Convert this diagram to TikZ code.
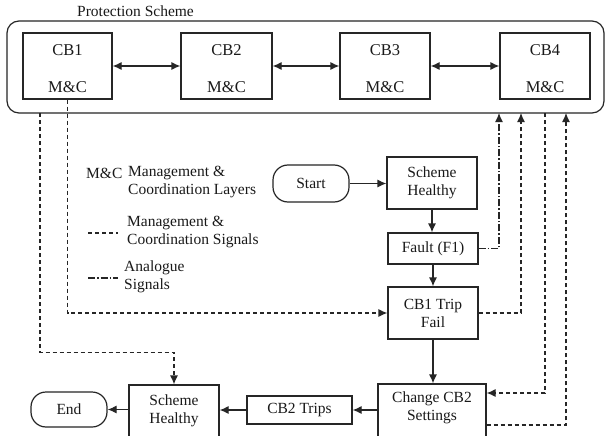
\documentclass[tikz,border=0pt]{standalone}
\usepackage{fontspec}
\setmainfont{Liberation Serif}
\usetikzlibrary{arrows.meta}
\begin{document}
\begin{tikzpicture}[x=1pt,y=-1pt,
  every node/.style={font=\fontsize{15.5}{18}\selectfont, inner sep=0pt, text=black!90},
  box/.style={draw=black!85, line width=1.2pt, align=center},
  pill/.style={box, rounded corners=15pt},
  lbl/.style={align=center},
  cbtext/.style={font=\fontsize{16.5}{19}\selectfont},
  arr/.style={-{Latex[length=9pt,width=8pt]}, line width=1.2pt, draw=black!85},
  arrtwo/.style={{Latex[length=9pt,width=8pt]}-{Latex[length=9pt,width=8pt]}, line width=1.2pt, draw=black!85},
  sig/.style={arr, dash pattern=on 4pt off 3pt},
  ana/.style={arr, dash pattern=on 7pt off 2pt on 1.5pt off 2pt},
  sigline/.style={line width=1.2pt, draw=black!85, dash pattern=on 4pt off 3pt},
  analine/.style={line width=1.2pt, draw=black!85, dash pattern=on 7pt off 2pt on 1.5pt off 2pt}
]
\clip (0,0) rectangle (605,436);
\fill[white] (0,0) rectangle (605,436);

% protection scheme frame
\node[draw=black!85, line width=1.2pt, rounded corners=12pt, minimum width=597pt, minimum height=92pt] (scheme) at (305.5,67) {};
\node[anchor=base west] (title) at (77,17) {Protection Scheme};

% circuit breakers
\node[box, minimum width=89pt, minimum height=66pt] (cb1) at (67.5,66) {};
\node[box, minimum width=91pt, minimum height=66pt] (cb2) at (226.5,66) {};
\node[box, minimum width=90pt, minimum height=66pt] (cb3) at (385,66) {};
\node[box, minimum width=90pt, minimum height=66pt] (cb4) at (545,66) {};
\node[cbtext] (cb1a) at (67.5,50) {CB1};
\node[cbtext] (cb1b) at (67.5,87) {M\&C};
\node[cbtext] (cb2a) at (226.5,50) {CB2};
\node[cbtext] (cb2b) at (226.5,87) {M\&C};
\node[cbtext] (cb3a) at (385,50) {CB3};
\node[cbtext] (cb3b) at (385,87) {M\&C};
\node[cbtext] (cb4a) at (545,50) {CB4};
\node[cbtext] (cb4b) at (545,87) {M\&C};
\draw[arrtwo] (cb1) -- (cb2);
\draw[arrtwo] (cb2) -- (cb3);
\draw[arrtwo] (cb3) -- (cb4);

% legend
\node[anchor=west] (lmc) at (86,173) {M\&C};
\node[anchor=west, align=left] (lmctext) at (128,182) {Management \&\\Coordination Layers};
\coordinate (lsA) at (88,233);
\coordinate (lsB) at (118,233);
\draw[sigline] (lsA) -- (lsB);
\node[anchor=west, align=left] (lsig) at (127,232.5) {Management \&\\Coordination Signals};
\coordinate (laA) at (88,278);
\coordinate (laB) at (118,278);
\draw[analine] (laA) -- (laB);
\node[anchor=west, align=left] (lana) at (124,276.5) {Analogue\\Signals};

% flowchart
\node[pill, minimum width=76pt, minimum height=37pt] (start) at (311,183.5) {Start};
\node[box, minimum width=90pt, minimum height=52pt] (sh1) at (432,183) {Scheme\\Healthy};
\node[box, minimum width=90pt, minimum height=31pt] (fault) at (433,248.5) {Fault (F1)};
\node[box, minimum width=90pt, minimum height=52pt] (trip) at (433,313) {CB1 Trip\\Fail};
\node[box, minimum width=108pt, minimum height=56pt] (cc2) at (432,412) {};
\node[lbl] (cc2t) at (432,408) {Change CB2\\Settings};
\node[box, minimum width=105pt, minimum height=28pt] (cb2t) at (299.5,410) {CB2 Trips};
\node[box, minimum width=90pt, minimum height=55pt] (sh2) at (174,412.5) {};
\node[lbl] (sh2t) at (174,411) {Scheme\\Healthy};
\node[pill, minimum width=76pt, minimum height=35pt] (end) at (69,409.5) {End};

\draw[arr] (start) -- (start -| sh1.west);
\draw[arr] (sh1.south) -- (sh1.south |- fault.north);
\draw[arr] (fault.south) -- (fault.south |- trip.north);
\draw[arr] (trip.south) -- (trip.south |- cc2.north);
\draw[arr] (cc2.west |- cb2t.east) -- (cb2t.east);
\draw[arr] (cb2t.west) -- (cb2t.west -| sh2.east);
\draw[arr] (sh2.west |- end.east) -- (end.east);

% signal taps on the scheme frame
\coordinate (pA) at (499,113);
\coordinate (pB) at (521,113);
\coordinate (pC) at (545,113);
\coordinate (pD) at (566,113);
\coordinate (pE) at (40,113);

\draw[ana] (fault.east) -| (pA);
\draw[sig] (cb1.south) |- (trip.west);
\draw[sig] (trip.east) -| (pB);
\draw[sig] (pC) |- ([yshift=19pt]cc2.east);
\draw[sig] ([yshift=-13pt]cc2.east) -| (pD);
\draw[sig] (pE) |- ([yshift=32pt]sh2.north) -- (sh2.north);
\end{tikzpicture}
\end{document}
